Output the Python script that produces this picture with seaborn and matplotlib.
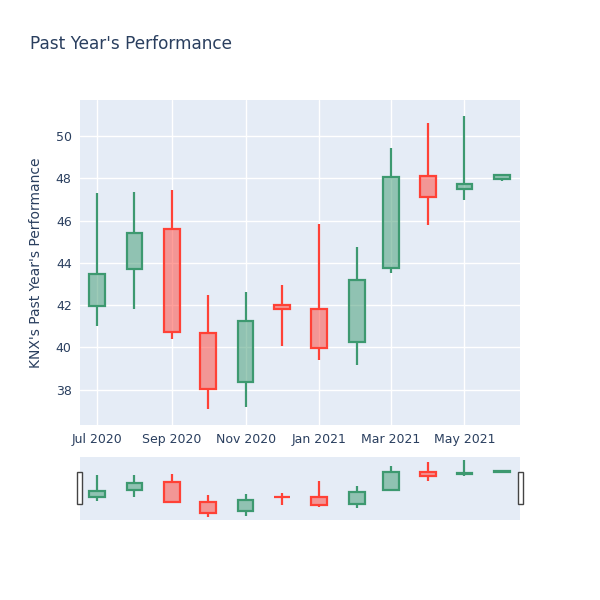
import matplotlib
matplotlib.use("Agg")
import matplotlib.pyplot as plt
import matplotlib.dates as mdates
from matplotlib.patches import Rectangle
import pandas as pd
import seaborn as sns

# monthly candles
dates = pd.date_range("2020-07-01", periods=12, freq="MS")
open_ = [41.96, 43.69, 45.60, 40.68, 38.38, 41.99, 41.83, 40.24, 43.75, 48.11, 47.48, 47.98]
high = [47.29, 47.35, 47.43, 42.46, 42.62, 42.93, 45.82, 44.73, 49.42, 50.60, 50.95, 48.19]
low = [41.01, 41.83, 40.39, 37.07, 37.16, 40.08, 39.40, 39.16, 43.53, 45.77, 46.97, 47.85]
close = [43.47, 45.43, 40.71, 38.01, 41.26, 41.81, 39.98, 43.17, 48.06, 47.11, 47.71, 48.17]

df = pd.DataFrame({"date": dates, "open": open_, "high": high, "low": low, "close": close})
df["up"] = df["close"] >= df["open"]
df["top"] = df[["open", "close"]].max(axis=1)
df["bottom"] = df[["open", "close"]].min(axis=1)

UP = "#3D9970"
DOWN = "#FF4136"
BG = "#E5ECF6"
TXT = "#2a3f5f"

sns.set_theme(style="darkgrid", rc={
    "axes.facecolor": BG,
    "grid.color": "white",
    "grid.linewidth": 1.0,
    "axes.edgecolor": BG,
})
plt.rcParams["font.family"] = ["DejaVu Sans"]


def draw_candles(ax, lw):
    width = pd.Timedelta(days=13)
    for _, r in df.iterrows():
        c = UP if r["up"] else DOWN
        ax.vlines(r["date"], r["top"], r["high"], color=c, lw=lw, zorder=3)
        ax.vlines(r["date"], r["low"], r["bottom"], color=c, lw=lw, zorder=3)
        ax.bar(r["date"], r["top"] - r["bottom"], bottom=r["bottom"], width=width,
               color=c, alpha=0.5, zorder=3, linewidth=0)
        ax.bar(r["date"], r["top"] - r["bottom"], bottom=r["bottom"], width=width,
               fill=False, edgecolor=c, linewidth=lw, zorder=4)


fig = plt.figure(figsize=(6, 6), dpi=100)
ax = fig.add_axes([80 / 600, 175 / 600, 440 / 600, 325 / 600])
draw_candles(ax, 1.6)

xmin = pd.Timestamp("2020-06-17")
xmax = pd.Timestamp("2021-06-16")
ax.set_xlim(xmin, xmax)
ax.set_ylim(36.33, 51.7)
ax.set_yticks([38, 40, 42, 44, 46, 48, 50])
ax.xaxis.set_major_locator(mdates.MonthLocator(bymonth=[1, 3, 5, 7, 9, 11]))
ax.xaxis.set_major_formatter(mdates.DateFormatter("%b %Y"))
ax.tick_params(axis="both", length=0, labelsize=9, colors=TXT, pad=6)
for s in ax.spines.values():
    s.set_visible(False)
ax.set_ylabel("KNX's Past Year's Performance", fontsize=10, color=TXT, labelpad=9)
ax.set_axisbelow(True)

fig.text(30 / 600, 1 - 44 / 600, "Past Year's Performance", fontsize=12.2, color=TXT,
         va="center", ha="left")

# range slider with mini copy of the candles
sl = fig.add_axes([80 / 600, 80 / 600, 440 / 600, 63 / 600])
draw_candles(sl, 1.6)
sl.set_xlim(xmin, xmax)
sl.set_ylim(36.3, 51.7)
sl.grid(False)
sl.set_xticks([])
sl.set_yticks([])
for s in sl.spines.values():
    s.set_visible(False)
for x0 in (-3 / 440, 438 / 440):
    sl.add_patch(Rectangle((x0, 0.26), 5 / 440, 0.5, transform=sl.transAxes,
                           facecolor="white", edgecolor="#444444", lw=1, clip_on=False, zorder=6))

fig.savefig("out.png", dpi=100)
